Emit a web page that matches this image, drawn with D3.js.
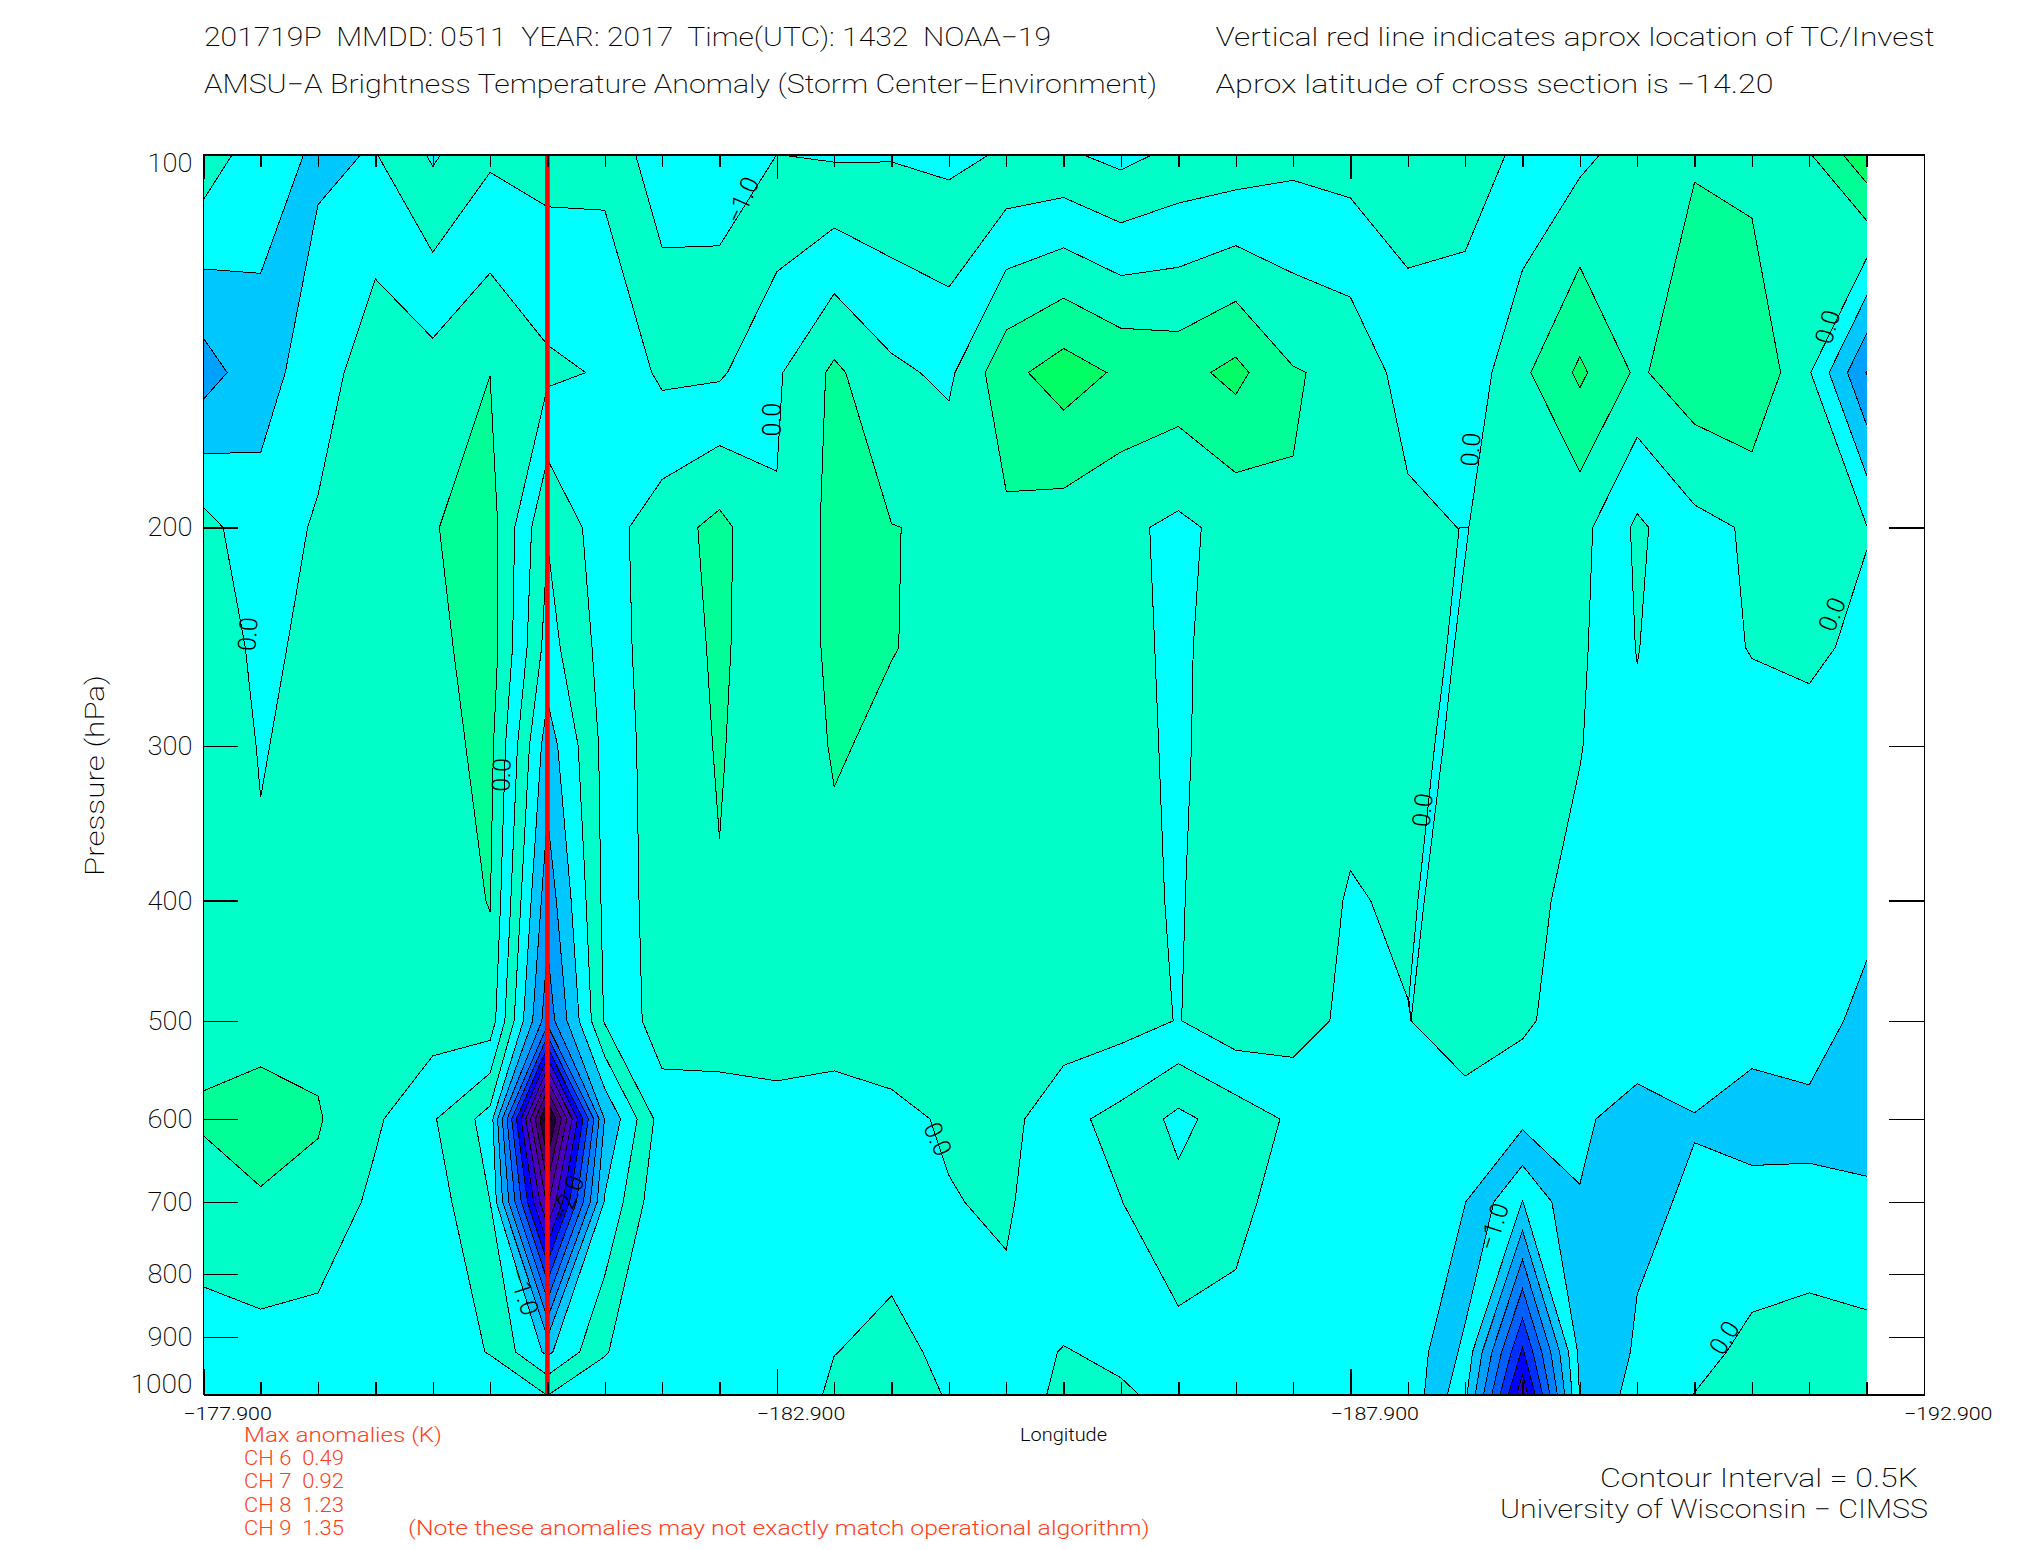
<!DOCTYPE html>
<html><head><meta charset="utf-8">
<script src="https://cdn.jsdelivr.net/npm/d3@7"></script>
<style>
html,body{margin:0;padding:0;background:#fff}
svg{display:block}
text{font-family:Roboto,"Liberation Sans",sans-serif;font-weight:200;fill:#000;stroke:none}
</style></head><body>
<svg id="c" width="2025" height="1550"></svg>
<script>
// ---------- data ----------
const pressures=[100,150,200,250,300,400,500,600,700,925,1000];
const firstLon=-177.9, lonStep=-0.5;
// one list per longitude column, top (100 hPa) to bottom (1000 hPa); K
const anomalyColumns=[
[.33,-1.25,.19,.3,.35,.35,.35,.56,.26,-.2,-.2],
[-.32,-.65,-.36,-.11,-.03,.06,.305,.72,.45,-.18,-.2],
[-.56,-.3,.08,.13,.16,.2,.37,.54,.37,-.24,-.2],
[-.48,.36,.3,.3,.3,.3,.25,.08,-.12,-.2,-.2],
[-1.07,.2,.47,.35,.31,.25,.25,-.45,-.25,-.3,-.3],
[-.59,.495,.73,.77,.64,.52,.3,-1.2,-1.0,-.52,-.25],
[-.69,.1,-.97,-1.2,-1.75,-2.3,-2.8,-7.3,-5.6,-1.6,-.51],
[-.655,-.05,-.2,-.3,-.35,-.37,-.45,-1.97,-1.45,-.53,-.25],
[-1.3,-.6,.27,.33,.28,.25,.24,-.25,-.05,-.1,-.1],
[-1.31,-.57,.64,.55,.53,.48,.25,-.23,-.1,-.1,-.2],
[-1.0,-.07,.04,.3,.26,.3,.3,-.19,-.15,-.3,-.4],
[-1.06,.6,.65,.56,.53,.417,.25,-.24,-.2,-.01,.1],
[-1.04,.1,.51,.51,.436,.36,.3,-.13,-.2,.12,.2],
[-1.12,-.1,.45,.43,.38,.3,.3,.064,-.03,-.1,-.03],
[-.95,.85,.395,.35,.35,.3,.3,.17,.08,-.17,-.29],
[-.93,1.24,.25,.25,.3,.25,.3,-.36,-.45,.02,.12],
[-1.15,.92,.1,.2,.25,.16,.2,-.66,-.49,-.08,.05],
[-.88,.82,-.1,-.14,-.13,-.05,-.02,-1.12,-.875,-.335,-.117],
[-.82,1.14,.15,.4,.44,.37,.33,-.77,-.56,-.427,-.2],
[-.64,.535,.47,.4,.4,.4,.25,-.42,-.4,-.3,-.25],
[-.72,.38,.35,.35,.25,-.06,-.14,-.3,-.3,-.3,-.3],
[-.8,-.225,.12,.25,.25,.11,-.025,-.2,-.2,-.15,-.14],
[-.62,-.35,-.02,.3,.3,.3,.4,-.31,-.49,-1.12,-1.38],
[-.45,.4,.29,.3,.28,.15,.08,-.35,-1.51,-4.08,-4.85],
[-.13,1.09,.17,.089,.024,-.15,-.25,-.445,-.515,-.87,-.97],
[.24,.42,-.59,-.52,-.4,-.3,-.25,-.64,-.58,-.45,-.3],
[.453,.82,-.14,-.08,-.15,-.2,-.2,-.52,-.45,-.15,.006],
[.31,.96,.06,.01,-.08,-.2,-.3,-.71,-.335,.12,.3],
[.47,.04,.3,.07,-.12,-.3,-.35,-.58,-.43,.28,.3],
[1.38,-1.52,.02,-.085,-.15,-.4,-.6,-.7,-.41,.16,.2]
];
// thin band of the 0.0 contour between two neighbouring columns
const slitPressureA=[200,250,300,400,480], slitLonA=[-188.848,-188.739,-188.634,-188.488,-188.409];
const slitPressureB=[200,250,300,400,500], slitLonB=[-188.933,-188.803,-188.709,-188.544,-188.428];

const levels=[-7,-6.5,-6,-5.5,-5,-4.5,-4,-3.5,-3,-2.5,-2,-1.5,-1,-.5,0,.5,1];
const bandColors=["#200030","#440070","#500098","#4c00b8","#3000d8","#0000ff","#0030ff","#0060ff","#0080ff","#00a0ff","#00c8ff","#00ffff","#00ffc8","#00ffff","#00ffc8","#00ff96","#00ff64"];
const lowestColor="#080010";

const stormLon=-180.9;
const yTicks=[100,200,300,400,500,600,700,800,900,1000];
const xMajor=[-177.9,-182.9,-187.9,-192.9];
const xMinor=d3.range(0,30).map(i=>-177.9-0.5*i);
const contourLabels=[
 {t:"-1.0",x:-182.6,p:108.9,a:-66},{t:"0.0",x:-178.29,p:243.8,a:-86},{t:"0.0",x:-182.86,p:163.7,a:-90},
 {t:"0.0",x:-180.5,p:316.7,a:-88},{t:"0.0",x:-188.95,p:173,a:-85},{t:"0.0",x:-188.53,p:338,a:-84},
 {t:"0.0",x:-192.06,p:137.8,a:-74},{t:"0.0",x:-192.1,p:235,a:-68},{t:"0.0",x:-184.3,p:623,a:65},
 {t:"-2.0",x:-181.08,p:696,a:-68},{t:"-1.0",x:-180.69,p:827,a:72},{t:"-1.0",x:-189.15,p:733,a:-72},
 {t:"0.0",x:-191.16,p:901,a:-58}];

// ---------- layout ----------
const L=203.3,R=1924,T=154.3,B=1394,dataRight=1867.2;
const svg=d3.select("#c");
const xS=d3.scaleLinear().domain([-177.9,-192.9]).range([L,R]);
const yS=d3.scaleLog().domain([100,1000]).range([T,B]);
const nc=anomalyColumns.length,nr=pressures.length;
const colIdx=d3.scaleLinear().domain([0,1]).range([xS(firstLon),xS(firstLon+lonStep)]);
const rowIdx=d3.scaleLinear().domain(pressures.map((_,i)=>i)).range(pressures.map(p=>yS(p)));
const at=(c,r)=>anomalyColumns[Math.max(0,Math.min(nc-1,c))][Math.max(0,Math.min(nr-1,r))];
// padded by one cell so that contours run off the edges of the frame
const gw=nc+2,gh=nr+2,grid=new Array(gw*gh);
for(let j=0;j<gh;j++)for(let i=0;i<gw;i++)grid[j*gw+i]=at(i-1,j-1);
const contours=d3.contours().size([gw,gh]).smooth(true).thresholds(levels)(grid);
const path=d3.geoPath(d3.geoTransform({point(x,y){this.stream.point(colIdx(x-1.5),rowIdx(y-1.5));}}));

const defs=svg.append("defs");
function clip(id,x0,y0,x1,y1){x0=Math.round(x0);y0=Math.round(y0);x1=Math.round(x1);y1=Math.round(y1);
 defs.append("clipPath").attr("id",id).append("rect").attr("x",x0).attr("y",y0).attr("width",x1-x0).attr("height",y1-y0);}
clip("plot",L,T,dataRight,B);
clip("left",L,T,colIdx(3),B);
clip("right",colIdx(28),T,dataRight,yS(200));
clip("lower",colIdx(21)+2,yS(400),dataRight,B);

function layer(id,over,keys){
 const g=svg.append("g").attr("clip-path",`url(#${id})`);
 if(!keys)g.append("rect").attr("x",L-2).attr("y",T-2).attr("width",dataRight-L+4).attr("height",B-T+4).attr("fill",lowestColor);
 g.selectAll("path").data(keys?contours.filter(c=>keys.includes(c.value)):contours).join("path").attr("d",path)
  .attr("fill",d=>over[d.value]||bandColors[levels.indexOf(d.value)])
  .attr("stroke","#000").attr("stroke-width",1).attr("shape-rendering","crispEdges");
}
const overrideLevels=[-1.5,-1,-.5,0,.5,1];
layer("plot",{});
layer("left",{"-1":"#00c8ff","-1.5":"#00a0ff"},overrideLevels);
layer("right",{"-1":"#00c8ff","-1.5":"#00a0ff"},overrideLevels);
layer("lower",{"-1":"#00c8ff"},[-1,-.5,0,.5,1]);

// thin cyan slit
const slit=slitPressureA.map((p,i)=>[xS(slitLonA[i]),yS(p)]).concat(slitPressureB.map((p,i)=>[xS(slitLonB[i]),yS(p)]).reverse());
svg.append("path").attr("clip-path","url(#plot)").attr("d",d3.line()(slit)+"Z").attr("fill","#00ffff").attr("stroke","#000").attr("stroke-width",1).attr("shape-rendering","crispEdges");

// contour labels
contourLabels.forEach(l=>{
 svg.append("text").attr("transform",`translate(${xS(l.x)},${yS(l.p)}) rotate(${l.a})`)
  .attr("text-anchor","middle").attr("dominant-baseline","central").attr("font-size",25).style("font-weight",300).text(l.t.replace("-","\u2212"));
});

// storm line
svg.append("line").attr("x1",xS(stormLon)).attr("x2",xS(stormLon)).attr("y1",T).attr("y2",B).attr("stroke","#ff0000").attr("stroke-width",4.6);

// frame and axes
function styleAxis(g){g.selectAll("path.domain").attr("stroke","#000").attr("stroke-width",1).attr("shape-rendering","crispEdges");
 g.selectAll(".tick line").attr("stroke","#000").attr("stroke-width",1.4).attr("shape-rendering","crispEdges");g.selectAll(".tick text").remove();}
const xAxisFor=(fn,vals,len)=>fn(xS).tickValues(vals).tickSize(len).tickSizeOuter(0).tickFormat("");
svg.append("g").attr("transform",`translate(0,${T})`).call(xAxisFor(d3.axisBottom,xMinor,12.5)).call(styleAxis).selectAll("path.domain").attr("stroke-width",2);
svg.append("g").attr("transform",`translate(0,${T})`).call(xAxisFor(d3.axisBottom,xMajor,25)).call(styleAxis);
svg.append("g").attr("transform",`translate(0,${B})`).call(xAxisFor(d3.axisTop,xMinor,12.5)).call(styleAxis).selectAll("path.domain").attr("stroke-width",2);
svg.append("g").attr("transform",`translate(0,${B})`).call(xAxisFor(d3.axisTop,xMajor,25)).call(styleAxis);
svg.append("g").attr("transform",`translate(${L},0)`).call(d3.axisRight(yS).tickValues(yTicks.slice(1,-1)).tickSize(35).tickSizeOuter(0).tickFormat("")).call(styleAxis);
svg.append("g").attr("transform",`translate(${R},0)`).call(d3.axisLeft(yS).tickValues(yTicks.slice(1,-1)).tickSize(35).tickSizeOuter(0).tickFormat("")).call(styleAxis);

// text helper: x start, baseline, exact width, size
function T_(s,x,y,w,fs,col,weight){
 const t=svg.append("text").attr("x",x).attr("y",y).attr("font-size",fs).text(s)
  .attr("textLength",w).attr("lengthAdjust","spacingAndGlyphs");
 if(col)t.style("fill",col);
 if(weight)t.style("font-weight",weight);
 return t;
}
T_("201719P  MMDD: 0511  YEAR: 2017  Time(UTC): 1432  NOAA\u221219",204,46,847,25).attr("xml:space","preserve");
T_("AMSU\u2212A Brightness Temperature Anomaly (Storm Center\u2212Environment)",204,92.5,953,25);
T_("Vertical red line indicates aprox location of TC/Invest",1215.5,46,719,25);
T_("Aprox latitude of cross section is \u221214.20",1215.5,92.5,558,25);

// y tick labels
yTicks.forEach(p=>{
 const s=String(p),w=s.length===4?62:45;
 const dy=p===100?18:p===1000?-1:9;
 T_(s,192.5-w,yS(p)+dy,w,25);
});
// x tick labels
xMajor.forEach(v=>T_("\u2212"+Math.abs(v).toFixed(3),xS(v)-20,1420,88.5,18,null,300));
T_("Longitude",1020,1441,87,18,null,300);
// y title
svg.append("text").attr("transform","translate(104,876) rotate(-90)").attr("font-size",25).attr("textLength",201).attr("lengthAdjust","spacingAndGlyphs").text("Pressure (hPa)");

// anomalies
const red="#ff4020";
const anomalyRows=["Max anomalies (K)","CH 6  0.49","CH 7  0.92","CH 8  1.23","CH 9  1.35"];
const anomalyY=[1441.5,1465,1488,1511.5,1535],anomalyW=[198,100,100,100,100];
anomalyRows.forEach((s,i)=>T_(s,244,anomalyY[i],anomalyW[i],19.5,red,300).attr("xml:space","preserve"));
T_("(Note these anomalies may not exactly match operational algorithm)",408,1535,741.5,19.5,red,300);
T_("Contour Interval = 0.5K",1600,1487,318,25);
T_("University of Wisconsin \u2212 CIMSS",1500,1518,428,25);
</script>
</body></html>
